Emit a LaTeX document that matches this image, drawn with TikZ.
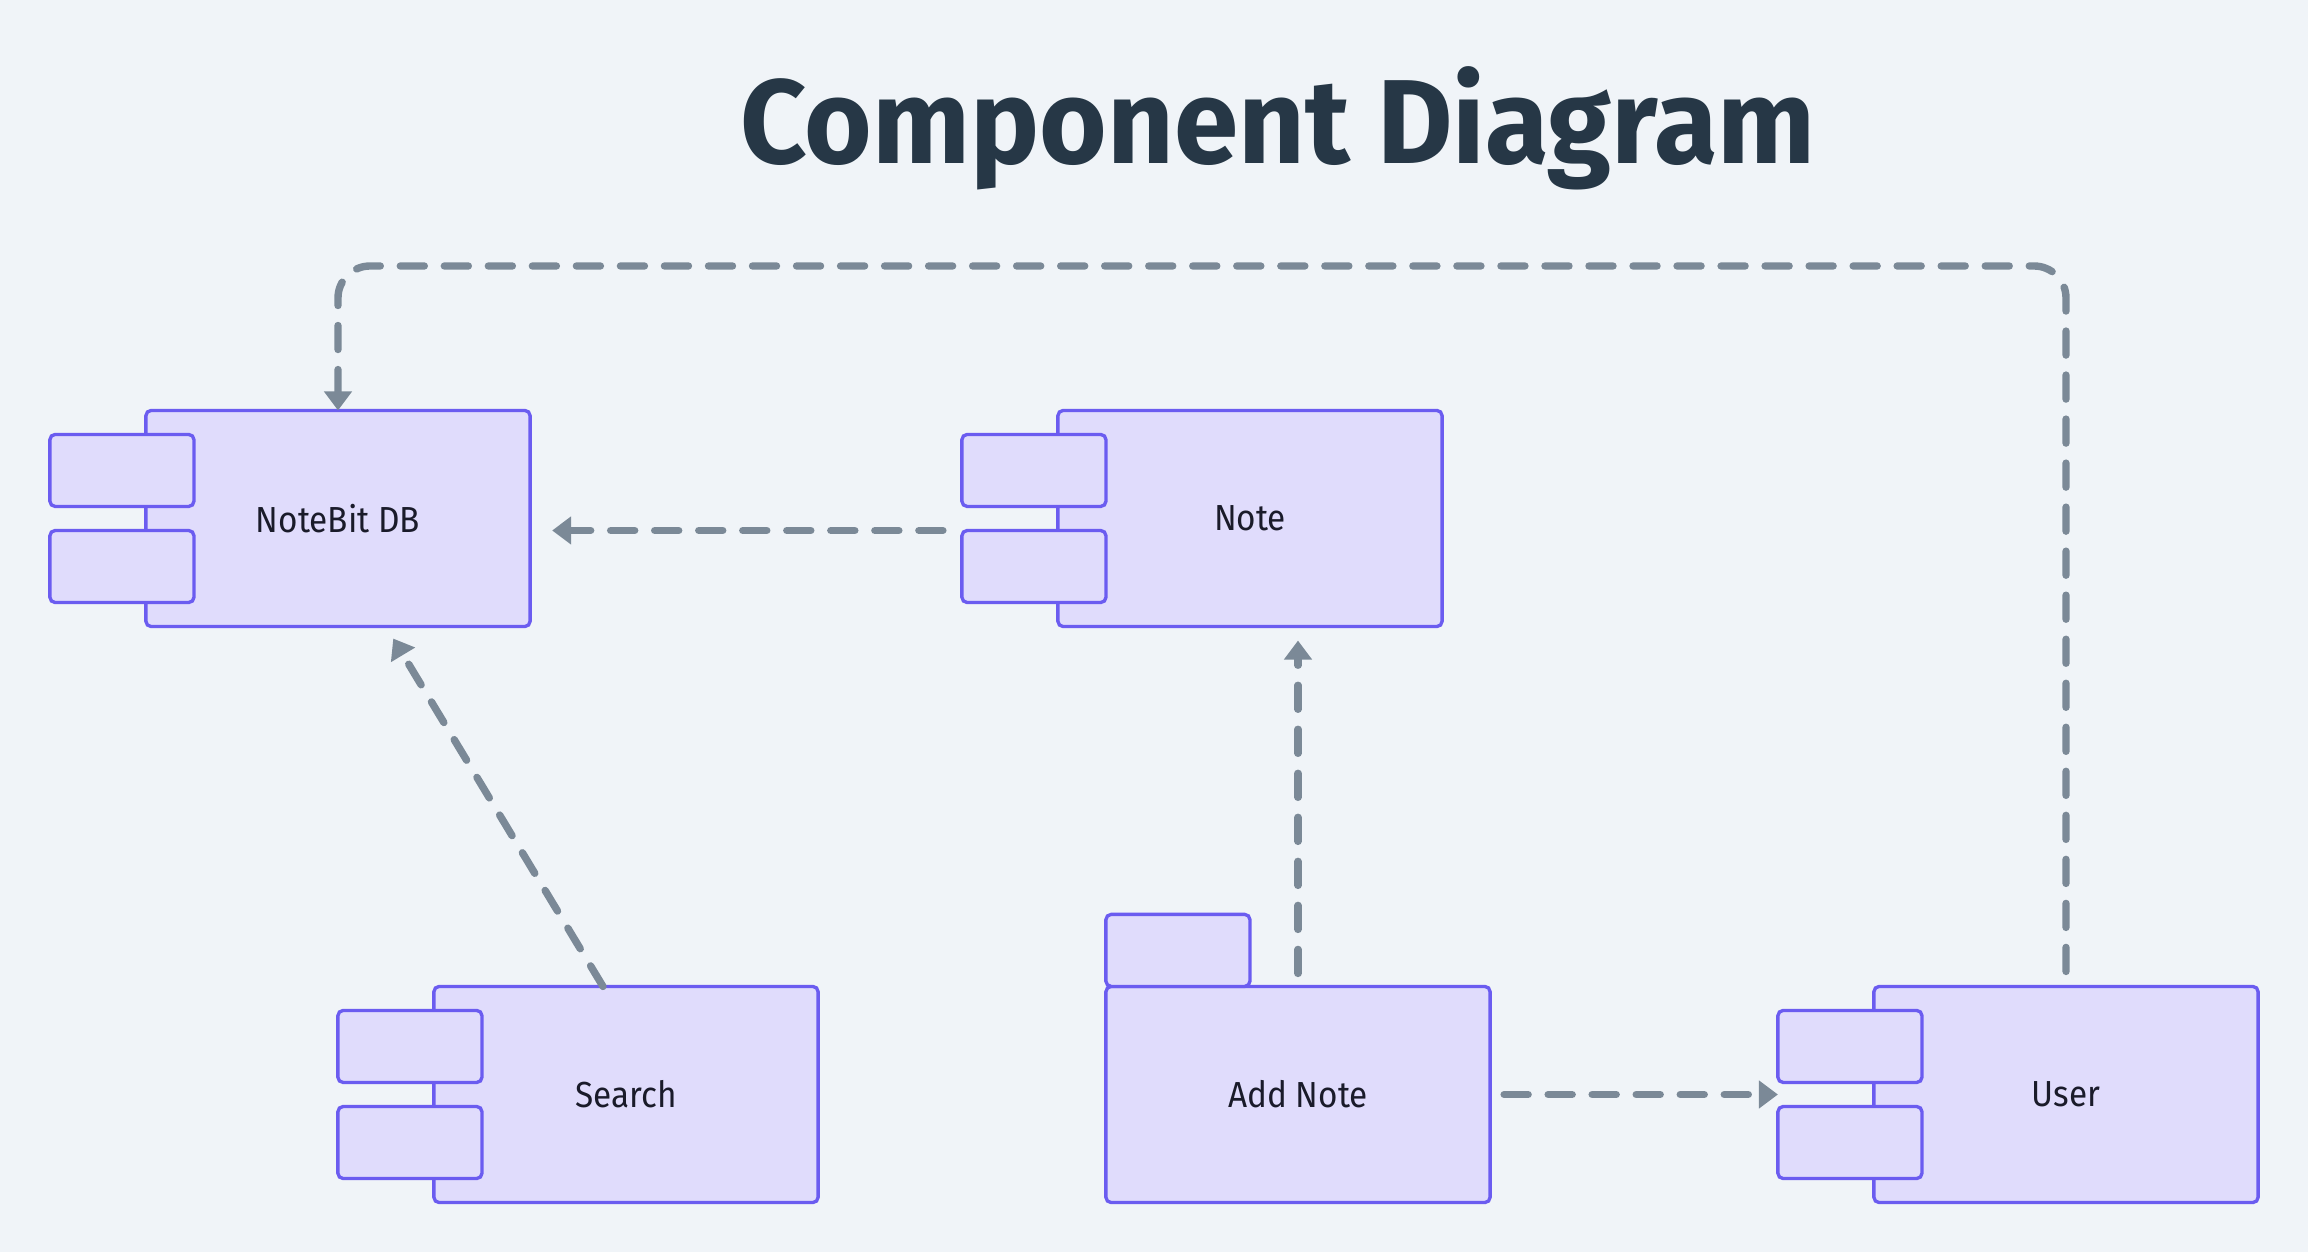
\documentclass[tikz,border=0pt]{standalone}
\usepackage{fontspec}
\usetikzlibrary{positioning,arrows.meta}
\newfontfamily\labelfont[FakeStretch=0.92]{Fira Sans}
\newfontfamily\titlefont[FakeStretch=0.97]{Fira Sans}
\definecolor{bgcol}{HTML}{F0F4F8}
\definecolor{compfill}{HTML}{E0DCFC}
\definecolor{compline}{HTML}{6B5CF0}
\definecolor{flowgray}{HTML}{7B8997}
\definecolor{titlecol}{HTML}{263746}
\definecolor{labelcol}{HTML}{1A1B2A}
\begin{document}
\begin{tikzpicture}[
  x=0.01cm, y=-0.01cm,
  node distance=0.24cm,
  comp/.style={draw=compline, fill=compfill, line width=0.95pt, rounded corners=1.5pt, outer sep=0pt, inner sep=0pt,
    minimum width=3.84cm, minimum height=2.16cm, text=labelcol, font=\labelfont\fontsize{10.3pt}{12pt}\selectfont},
  tab/.style={draw=compline, fill=compfill, line width=0.95pt, rounded corners=1.5pt, outer sep=0pt, inner sep=0pt,
    minimum width=1.44cm, minimum height=0.72cm},
  dep/.style={draw=flowgray, line width=2.1pt, line cap=round, dash pattern=on 0.24cm off 0.20cm,
    -{Triangle[length=0.19cm, width=0.27cm]}},
  heading/.style={anchor=base, text=titlecol, font=\titlefont\bfseries\fontsize{34pt}{40pt}\selectfont}
]
% page and background
\fill[bgcol] (0,0) rectangle (2308,1252);
\useasboundingbox (0,0) rectangle (2308,1252);

\node[heading] (title) at (1278,164) {Component Diagram};

% upper row
\node[comp] (notebit) at (338,518.5) {NoteBit DB};
\node[tab, anchor=north west] (notebit-t1) at ([shift={(-96,24)}]notebit.north west) {};
\node[tab, below=of notebit-t1] (notebit-t2) {};

\node[comp] (note) at (1250,518.5) {Note};
\node[tab, anchor=north west] (note-t1) at ([shift={(-96,24)}]note.north west) {};
\node[tab, below=of note-t1] (note-t2) {};

% lower row
\node[comp] (search) at (626,1094.5) {Search};
\node[tab, anchor=north west] (search-t1) at ([shift={(-96,24)}]search.north west) {};
\node[tab, below=of search-t1] (search-t2) {};

\node[comp] (addnote) at (1298,1094.5) {Add Note};
\node[tab, anchor=south west] (addnote-t) at (addnote.north west) {};

\node[comp] (user) at (2066,1094.5) {User};
\node[tab, anchor=north west] (user-t1) at ([shift={(-96,24)}]user.north west) {};
\node[tab, below=of user-t1] (user-t2) {};

% dependencies
\coordinate (bus) at (0,266);
\draw[dep, shorten <=0.19cm, shorten >=0.22cm] (note-t2.north west) -- (notebit.east |- note-t2.north west);
\draw[dep, shorten >=0.14cm] ([xshift=-0.23cm]search.north) -- ([xshift=0.48cm]notebit.south);
\draw[dep, shorten <=0.13cm, shorten >=0.14cm] (addnote.north) -- (note.south -| addnote.north);
\draw[dep, shorten <=0.14cm] (addnote.east) -- (user-t1.south west |- addnote.east);
\draw[dep, rounded corners=0.32cm, shorten <=0.15cm] (user.north) -- (user.north |- bus) -- (notebit.north |- bus) -- (notebit.north);

\end{tikzpicture}
\end{document}
